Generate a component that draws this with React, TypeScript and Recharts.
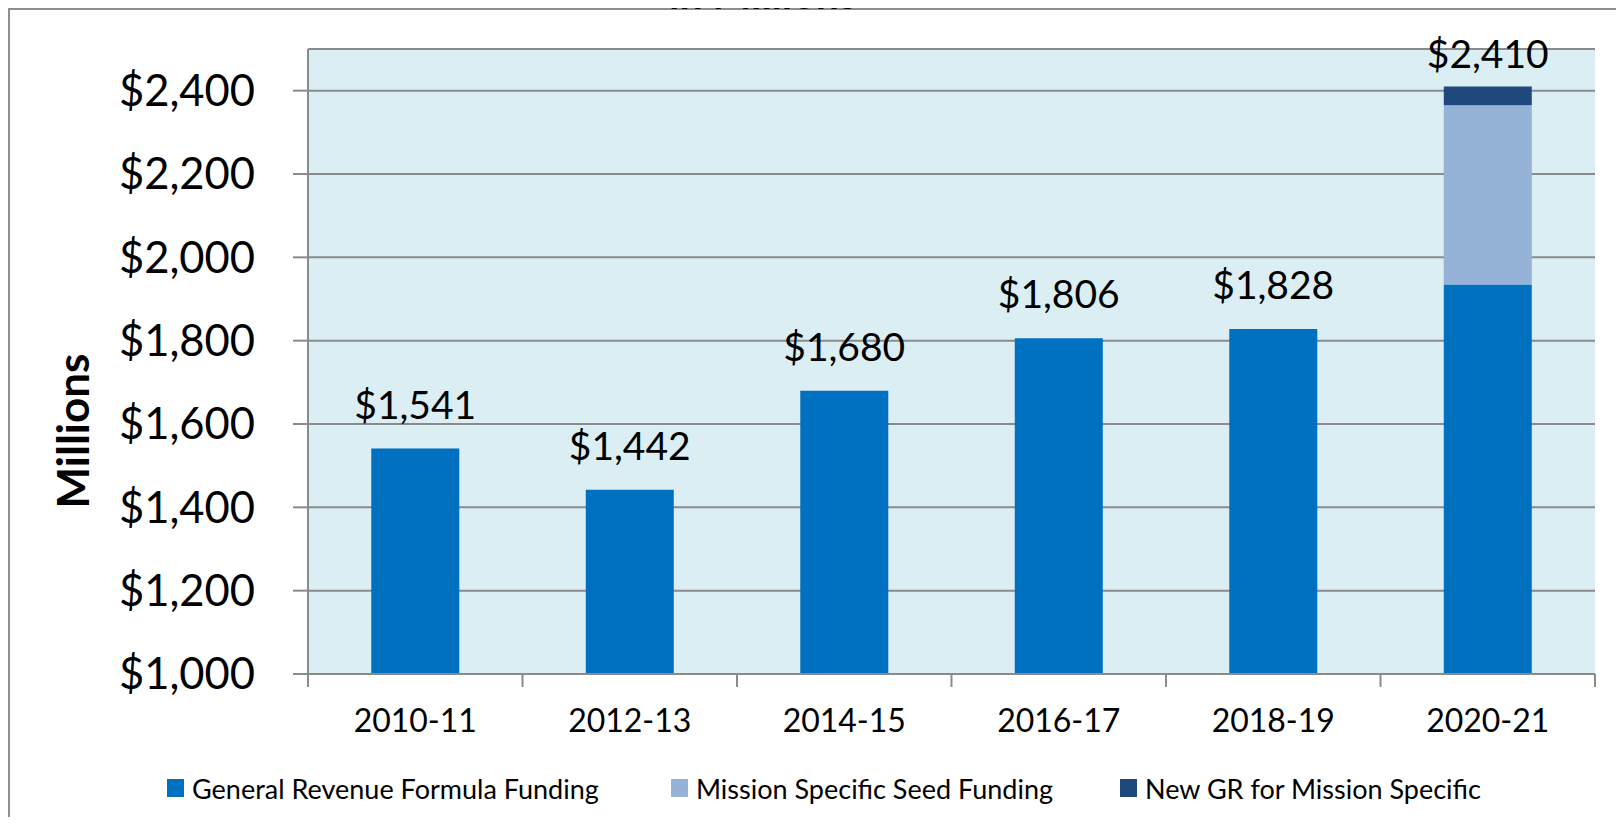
import React from "react";
import {
  BarChart,
  Bar,
  XAxis,
  YAxis,
  CartesianGrid,
  LabelList,
} from "recharts";

const years = ["2010-11", "2012-13", "2014-15", "2016-17", "2018-19", "2020-21"];
const formulaFunding = [1541, 1442, 1680, 1806, 1828, 1935];
const seedFunding = [0, 0, 0, 0, 0, 430];
const newGrFunding = [0, 0, 0, 0, 0, 45];
const totals = [1541, 1442, 1680, 1806, 1828, 2410];
const yTicks = [1000, 1200, 1400, 1600, 1800, 2000, 2200, 2400];

const series = [
  { key: "formula", name: "General Revenue Formula Funding", color: "#0070C0", labelOffset: 30 },
  { key: "seed", name: "Mission Specific Seed Funding", color: "#95B3D7", labelOffset: 0 },
  { key: "newGr", name: "New GR for Mission Specific", color: "#1F497D", labelOffset: 19 },
];

// label sits on whichever series is the top of the stack
const chartData = years.map((year, i) => {
  const stacked = seedFunding[i] + newGrFunding[i] > 0;
  return {
    year,
    formula: formulaFunding[i],
    seed: seedFunding[i],
    newGr: newGrFunding[i],
    formulaLabel: stacked ? null : totals[i],
    seedLabel: null,
    newGrLabel: stacked ? totals[i] : null,
  };
});

const FONT = "Lato, 'Open Sans', sans-serif";
const AXIS_GRAY = "#8a8a8a";
const legendLefts = [167, 671, 1120];

const money = (v: number) => "$" + Number(v).toLocaleString("en-US");

function YearTick(props: any) {
  const { x, y, payload, index, visibleTicksCount, width } = props;
  const count = visibleTicksCount || 6;
  const band = (width || 1287) / count;
  return (
    <g>
      <line x1={x - band / 2} x2={x - band / 2} y1={y} y2={y + 13} stroke={AXIS_GRAY} strokeWidth={2} />
      {index === count - 1 && (
        <line x1={x + band / 2} x2={x + band / 2} y1={y} y2={y + 13} stroke={AXIS_GRAY} strokeWidth={2} />
      )}
      <text x={x} y={y + 35} dy="0.71em" textAnchor="middle" fontSize={32} fontFamily={FONT} fill="#000">
        {payload.value}
      </text>
    </g>
  );
}

function AxisTitle() {
  return (
    <text
      x={72}
      y={431}
      transform="rotate(-90 72 431)"
      textAnchor="middle"
      dominantBaseline="central"
      fontSize={44}
      fontWeight={700}
      fontFamily={FONT}
      fill="#000"
    >
      Millions
    </text>
  );
}

export default function App() {
  return (
    <div style={{ position: "relative", margin: -8, width: 1624, height: 825, overflow: "hidden", background: "#fff" }}>
      <div
        style={{
          position: "absolute",
          left: 0,
          top: 0,
          width: 1624,
          height: 825,
          borderLeft: "2px dotted #b8b8b8",
          borderTop: "2px dotted #b8b8b8",
          boxSizing: "border-box",
        }}
      />
      <div
        style={{
          position: "absolute",
          left: 8,
          top: 8,
          width: 1614,
          height: 830,
          borderLeft: "2px solid #8e8e8e",
          borderTop: "2px solid #8e8e8e",
          borderRight: "1px solid #d8d8d8",
          boxSizing: "border-box",
        }}
      />
      <div style={{ position: "absolute", left: 0, top: 0 }}>
        <BarChart
          width={1624}
          height={825}
          data={chartData}
          margin={{ top: 49, right: 29, left: 0, bottom: 91 }}
          barCategoryGap="29.5%"
        >
          <CartesianGrid
            horizontal
            vertical={false}
            stroke={AXIS_GRAY}
            strokeWidth={2}
            fill="#DAEEF3"
            fillOpacity={1}
          />
          <XAxis
            dataKey="year"
            height={60}
            axisLine={{ stroke: AXIS_GRAY, strokeWidth: 2 }}
            tickLine={false}
            tickSize={0}
            tickMargin={0}
            interval={0}
            tick={<YearTick />}
          />
          <YAxis
            type="number"
            width={308}
            domain={[1000, 2500]}
            ticks={yTicks}
            allowDataOverflow
            interval={0}
            tickFormatter={money}
            axisLine={{ stroke: AXIS_GRAY, strokeWidth: 2 }}
            tickLine={{ stroke: AXIS_GRAY, strokeWidth: 2 }}
            tickSize={15}
            tickMargin={38}
            tick={{ fontSize: 43.5, fill: "#000", fontFamily: FONT }}
            label={<AxisTitle />}
          />
          {series.map((s) => (
            <Bar key={s.key} dataKey={s.key} name={s.name} stackId="stack" fill={s.color} isAnimationActive={false}>
              <LabelList
                dataKey={s.key + "Label"}
                position="top"
                offset={s.labelOffset}
                formatter={(v: any) => (v == null ? "" : money(v))}
                style={{ fontSize: 39, fill: "#000", fontFamily: FONT }}
              />
            </Bar>
          ))}
        </BarChart>
      </div>
      <svg style={{ position: "absolute", left: 0, top: 0, zIndex: 5 }} width={1624} height={40}>
        <text x={763} y={9} textAnchor="middle" fontSize={41} fontWeight={700} fontFamily={FONT} fill="#000">
          in Millions
        </text>
      </svg>
      {series.map((s, i) => (
        <div
          key={s.key}
          style={{
            position: "absolute",
            left: legendLefts[i],
            top: 772,
            height: 32,
            display: "flex",
            alignItems: "center",
            gap: 8,
            fontFamily: FONT,
            fontSize: 27,
            color: "#000",
            whiteSpace: "nowrap",
          }}
        >
          <span style={{ display: "inline-block", width: 17, height: 18, background: s.color }} />
          <span>{s.name}</span>
        </div>
      ))}
    </div>
  );
}
